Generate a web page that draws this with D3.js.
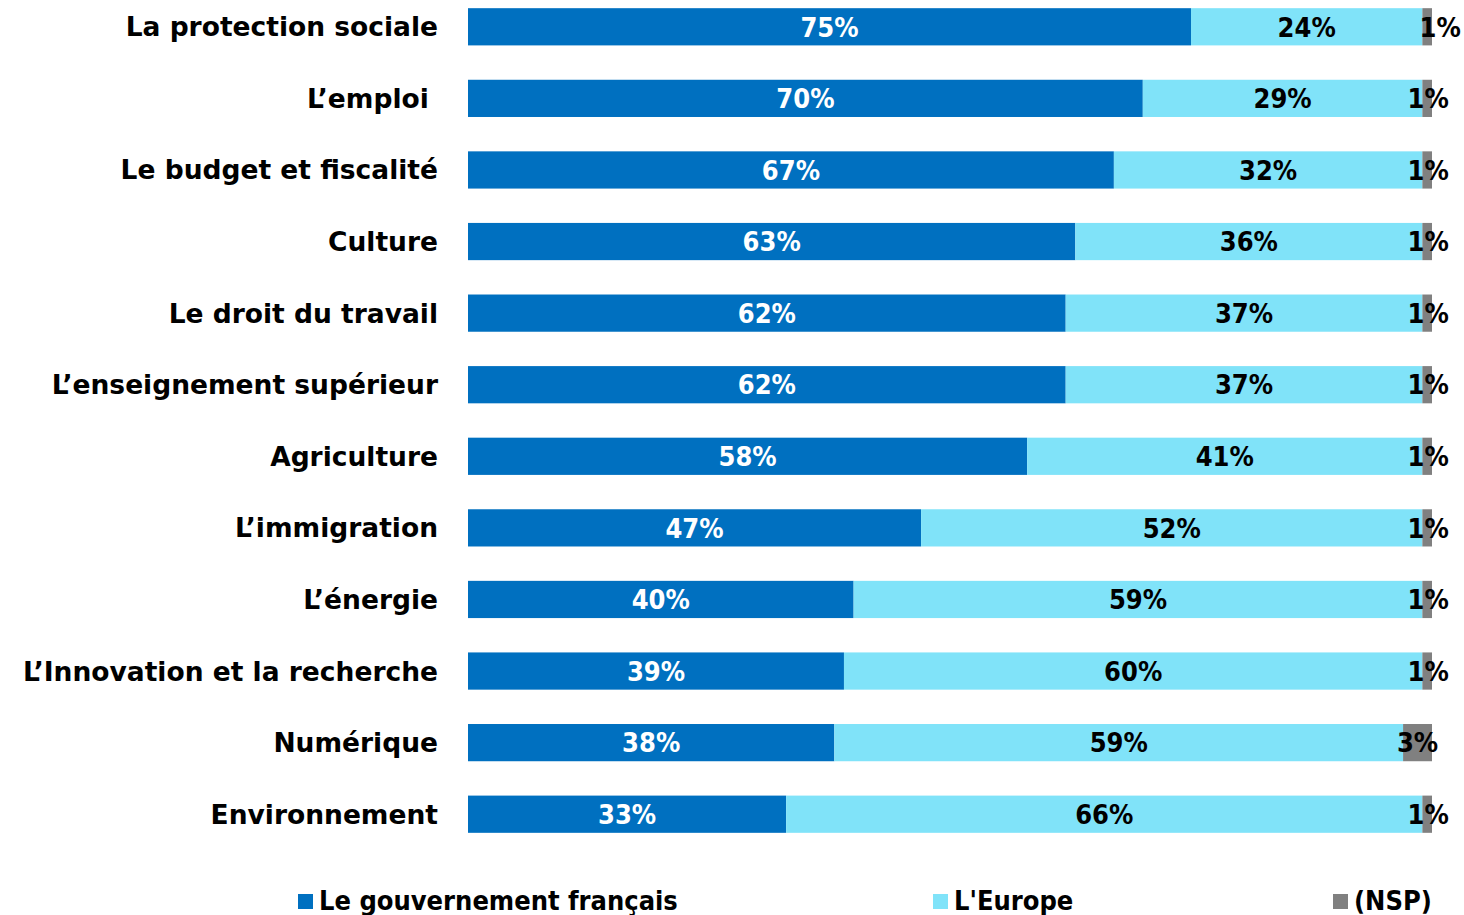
<!DOCTYPE html>
<html>
<head>
<meta charset="utf-8">
<script src="https://cdn.jsdelivr.net/npm/d3@7"></script>
<style>
  html, body { margin: 0; padding: 0; background: #fff; }
  svg text { font-family: "DejaVu Sans Condensed", "DejaVu Sans", sans-serif; font-weight: bold; white-space: pre; }
  svg text.cat { font-family: "DejaVu Sans", sans-serif; }
</style>
</head>
<body>
<svg id="chart" width="1464" height="915"></svg>
<script>
const categories = [
  "La protection sociale", "L’emploi ", "Le budget et fiscalité", "Culture",
  "Le droit du travail", "L’enseignement supérieur", "Agriculture", "L’immigration",
  "L’énergie", "L’Innovation et la recherche", "Numérique", "Environnement"
];
const gouvernement = [75, 70, 67, 63, 62, 62, 58, 47, 40, 39, 38, 33];
const europe       = [24, 29, 32, 36, 37, 37, 41, 52, 59, 60, 59, 66];
const nsp          = [ 1,  1,  1,  1,  1,  1,  1,  1,  1,  1,  3,  1];
const seriesNames  = ["Le gouvernement français", "L'Europe", "(NSP)"];
const colors       = ["#0070C0", "#80E3F9", "#808080"];
const labelColors  = ["#ffffff", "#000000", "#000000"];

const svg = d3.select("#chart");
const x = d3.scaleLinear().domain([0, 100]).range([468, 1432]);
const y = d3.scaleBand().domain(categories).range([-9, 850]).paddingInner(0.48).paddingOuter(0.24);

const rows = categories.map((c, i) => ({ cat: c, values: [gouvernement[i], europe[i], nsp[i]] }));

// category labels
svg.append("g").selectAll("text").data(rows).join("text")
  .attr("class", "cat")
  .attr("x", 438)
  .attr("y", d => y(d.cat) + y.bandwidth() / 2)
  .attr("dy", "0.36em")
  .attr("text-anchor", "end")
  .attr("font-size", 26.5)
  .attr("fill", "#000")
  .text(d => d.cat);

// stacked segments
const segs = [];
rows.forEach((r, ri) => {
  let acc = 0;
  r.values.forEach((v, si) => {
    segs.push({ cat: r.cat, row: ri, s: si, x0: acc, x1: acc + v, v });
    acc += v;
  });
});

svg.append("g").selectAll("rect").data(segs).join("rect")
  .attr("x", d => x(d.x0))
  .attr("y", d => y(d.cat))
  .attr("width", d => x(d.x1) - x(d.x0))
  .attr("height", y.bandwidth())
  .attr("fill", d => colors[d.s]);

// value labels
svg.append("g").selectAll("text").data(segs).join("text")
  .attr("x", d => (x(d.x0) + x(d.x1)) / 2 + (d.s === 2 && d.row === 0 ? 12 : 0) + (d.s === 2 && d.v === 1 ? 1 : 0))
  .attr("y", d => y(d.cat) + y.bandwidth() / 2)
  .attr("dy", "0.36em")
  .attr("text-anchor", "middle")
  .attr("font-size", 27)
  .attr("fill", d => labelColors[d.s])
  .text(d => d.v + "%");

// legend
const legendX = [298, 933, 1333];
const lg = svg.append("g").selectAll("g").data(seriesNames).join("g")
  .attr("transform", (d, i) => `translate(${legendX[i]},894)`);
lg.append("rect").attr("width", 15).attr("height", 15).attr("fill", (d, i) => colors[i]);
lg.append("text").attr("x", 21).attr("y", 16).attr("font-size", 27).attr("fill", "#000").text(d => d);
</script>
</body>
</html>
